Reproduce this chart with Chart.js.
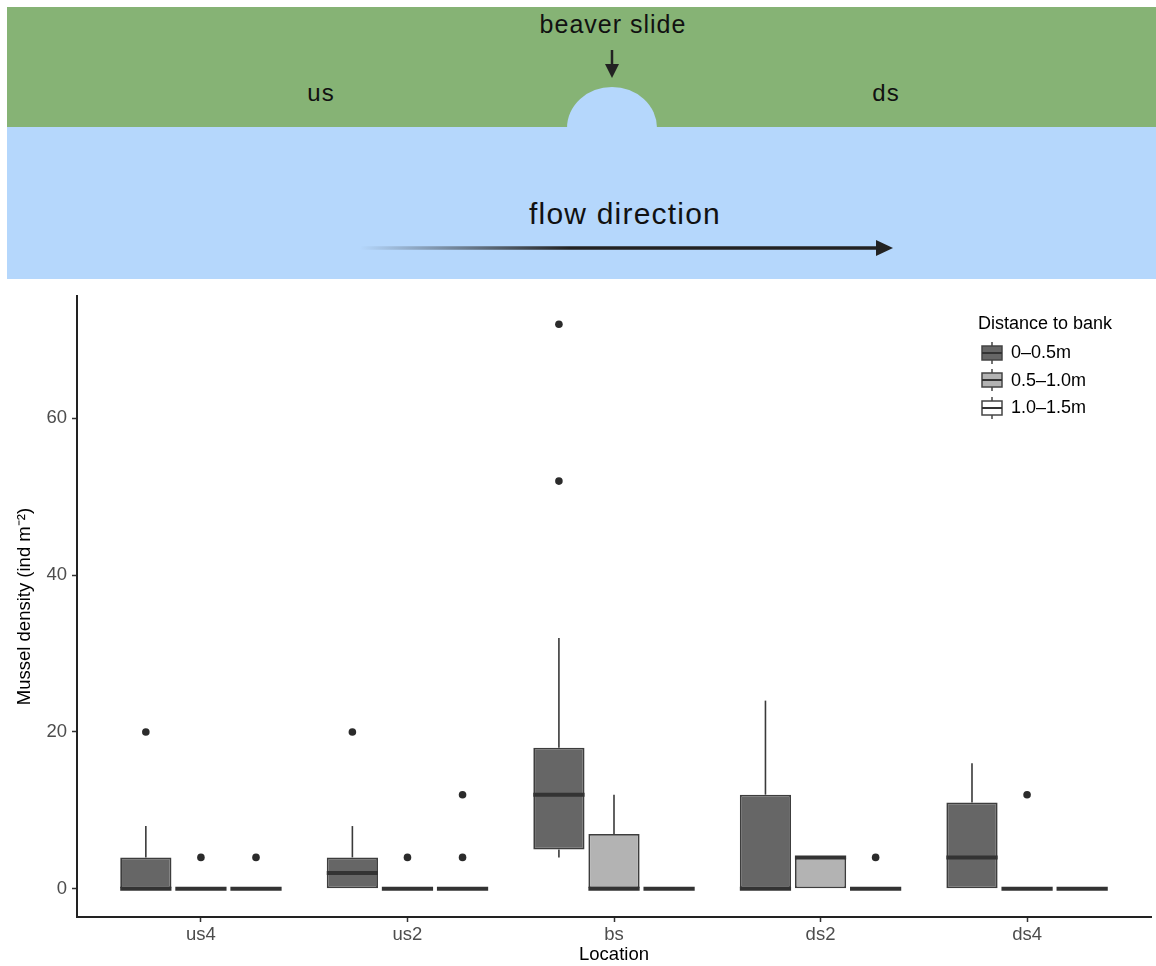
<!DOCTYPE html>
<html>
<head>
<meta charset="utf-8">
<script src="https://cdn.jsdelivr.net/npm/chart.js@4/dist/chart.umd.min.js"></script>
<style>
  body { margin: 0; background: #fff; font-family: "Liberation Sans", Arial, sans-serif; }
  #banner { position: absolute; left: 0; top: 0; }
  #wrap { position: absolute; left: 0; top: 280px; width: 1156px; height: 686px; }
  #legend { position: absolute; left: 978px; top: 310px; font-size: 18px; color: #000; }
  #legend .title { height: 26px; line-height: 26px; margin-bottom: 3px; }
  #legend .row { display: flex; align-items: center; height: 27.5px; }
  #legend svg { margin-left: 3px; margin-right: 8px; }
</style>
</head>
<body>
<svg id="banner" width="1156" height="285">
  <defs>
    <linearGradient id="fade" gradientUnits="userSpaceOnUse" x1="360" y1="0" x2="570" y2="0">
      <stop offset="0" stop-color="#222" stop-opacity="0"/>
      <stop offset="1" stop-color="#222" stop-opacity="1"/>
    </linearGradient>
  </defs>
  <rect x="7" y="7" width="1149" height="120" fill="#86b375"/>
  <rect x="7" y="127" width="1149" height="152" fill="#b5d7fc"/>
  <path d="M567,128 A45,41 0 0 1 657,128 Z" fill="#b5d7fc"/>
  <g font-family="Liberation Sans, Arial, sans-serif" fill="#111" text-anchor="middle">
    <text x="613" y="33" font-size="25" letter-spacing="1">beaver slide</text>
    <text x="321" y="101" font-size="24" letter-spacing="1">us</text>
    <text x="886" y="101" font-size="24" letter-spacing="1">ds</text>
    <text x="625" y="224" font-size="30" letter-spacing="1.2">flow direction</text>
  </g>
  <line x1="612" y1="50" x2="612" y2="66" stroke="#222" stroke-width="2.5"/>
  <polygon points="605,64 619,64 612,78" fill="#222"/>
  <line x1="360" y1="248" x2="880" y2="248" stroke="url(#fade)" stroke-width="3.5"/>
  <polygon points="876,240 893,248 876,256" fill="#222"/>
</svg>

<div id="wrap"><canvas id="chart"></canvas></div>

<div id="legend">
  <div class="title">Distance to bank</div>
</div>

<script>
// Locations along the bank and distance classes
const locations = ['us4', 'us2', 'bs', 'ds2', 'ds4'];
const groups = ['0–0.5m', '0.5–1.0m', '1.0–1.5m'];
const fills = ['#666666', '#b3b3b3', '#ffffff'];

// Box statistics, one row per distance class, one value per location
const whiskerLow  = [[0, 0, 4, 0, 0], [0, 0, 0, 0, 0], [0, 0, 0, 0, 0]];
const q1          = [[0, 0, 5, 0, 0], [0, 0, 0, 0, 0], [0, 0, 0, 0, 0]];
const median      = [[0, 2, 12, 0, 4], [0, 0, 0, 4, 0], [0, 0, 0, 0, 0]];
const q3          = [[4, 4, 18, 12, 11], [0, 0, 7, 4, 0], [0, 0, 0, 0, 0]];
const whiskerHigh = [[8, 8, 32, 24, 16], [0, 0, 12, 4, 0], [0, 0, 0, 0, 0]];
const outliers = [
    [[20], [20], [52, 72], [], []],
    [[4], [4], [], [], [12]],
    [[4], [4, 12], [], [4], []]
];

const yTicks = [0, 20, 40, 60];

// position of each class inside a location
const dodge = [-0.2667, 0, 0.2667];
const lineCol = '#333333';

const datasets = [];
groups.forEach((g, k) => {
    datasets.push({
        type: 'bar',
        label: g,
        data: locations.map((_, i) => ({ x: i + dodge[k], y: [q1[k][i], q3[k][i]] })),
        backgroundColor: fills[k],
        borderColor: '#3d3d3d',
        borderWidth: 1.8,
        borderSkipped: false,
        grouped: false,
        categoryPercentage: 1,
        barPercentage: 0.93,
        order: 2
    });
});
const pts = [];
groups.forEach((g, k) => {
    locations.forEach((_, i) => {
        outliers[k][i].forEach(v => pts.push({ x: i + dodge[k], y: v }));
    });
});
datasets.push({
    type: 'scatter',
    label: 'outliers',
    data: pts,
    pointRadius: 3.8,
    pointBackgroundColor: '#2b2b2b',
    pointBorderWidth: 0,
    order: 1
});

// whiskers and medians, placed from the bar elements and the y scale
const boxParts = {
    id: 'boxParts',
    beforeDatasetsDraw(chart) {
        const { ctx, scales: { y } } = chart;
        ctx.save();
        ctx.strokeStyle = '#3a3a3a';
        ctx.lineWidth = 1.6;
        groups.forEach((g, k) => {
            chart.getDatasetMeta(k).data.forEach((bar, i) => {
                ctx.beginPath();
                ctx.moveTo(bar.x, y.getPixelForValue(q3[k][i]));
                ctx.lineTo(bar.x, y.getPixelForValue(whiskerHigh[k][i]));
                ctx.moveTo(bar.x, y.getPixelForValue(q1[k][i]));
                ctx.lineTo(bar.x, y.getPixelForValue(whiskerLow[k][i]));
                ctx.stroke();
            });
        });
        ctx.restore();
    },
    afterDatasetsDraw(chart) {
        const { ctx, scales: { y } } = chart;
        ctx.save();
        ctx.strokeStyle = lineCol;
        ctx.lineWidth = 4;
        groups.forEach((g, k) => {
            chart.getDatasetMeta(k).data.forEach((bar, i) => {
                const py = y.getPixelForValue(median[k][i]);
                ctx.beginPath();
                ctx.moveTo(bar.x - bar.width / 2, py);
                ctx.lineTo(bar.x + bar.width / 2, py);
                ctx.stroke();
            });
        });
        ctx.restore();
    }
};

const tickFont = { family: 'Liberation Sans, Arial, sans-serif', size: 18.5 };

new Chart(document.getElementById('chart'), {
    type: 'bar',
    data: { datasets: datasets },
    plugins: [boxParts],
    options: {
        responsive: true,
        maintainAspectRatio: false,
        animation: false,
        layout: { padding: { top: 12, right: 5, bottom: 0, left: 0 } },
        plugins: { legend: { display: false }, tooltip: { enabled: false } },
        scales: {
            x: {
                type: 'linear',
                offset: false,
                min: -0.6,
                max: 4.6,
                afterBuildTicks: s => { s.ticks = locations.map((_, i) => ({ value: i })); },
                afterFit: s => { s.height = 49; },
                ticks: {
                    callback: v => locations[v],
                    font: tickFont,
                    color: '#4d4d4d',
                    padding: 2,
                    maxRotation: 0
                },
                grid: { offset: false, drawOnChartArea: false, tickLength: 5, tickColor: lineCol, tickWidth: 1.5 },
                border: { color: '#222', width: 2 },
                title: {
                    display: true,
                    text: 'Location',
                    color: '#000',
                    font: tickFont,
                    padding: { top: 0, bottom: 0 }
                }
            },
            y: {
                type: 'linear',
                min: -3.6,
                max: 75.6,
                afterBuildTicks: s => { s.ticks = yTicks.map(v => ({ value: v })); },
                afterFit: s => { s.width = 77; },
                ticks: { font: tickFont, color: '#4d4d4d', padding: 5 },
                grid: { drawOnChartArea: false, tickLength: 5, tickColor: lineCol, tickWidth: 1.5 },
                border: { color: '#222', width: 2 },
                title: {
                    display: true,
                    text: 'Mussel density (ind m⁻²)',
                    color: '#000',
                    font: tickFont,
                    padding: { top: 14, bottom: 0 }
                }
            }
        }
    }
});

// legend with small box glyphs
const legend = document.getElementById('legend');
groups.forEach((g, k) => {
    const row = document.createElement('div');
    row.className = 'row';
    row.innerHTML =
        '<svg width="22" height="24">' +
        '<line x1="11" y1="1" x2="11" y2="23" stroke="#444" stroke-width="1.5"/>' +
        '<rect x="1" y="5" width="20" height="14" fill="' + fills[k] + '" stroke="#444" stroke-width="1.5"/>' +
        '<line x1="1" y1="12" x2="21" y2="12" stroke="#333" stroke-width="2"/>' +
        '</svg><span>' + g + '</span>';
    legend.appendChild(row);
});
</script>
</body>
</html>
